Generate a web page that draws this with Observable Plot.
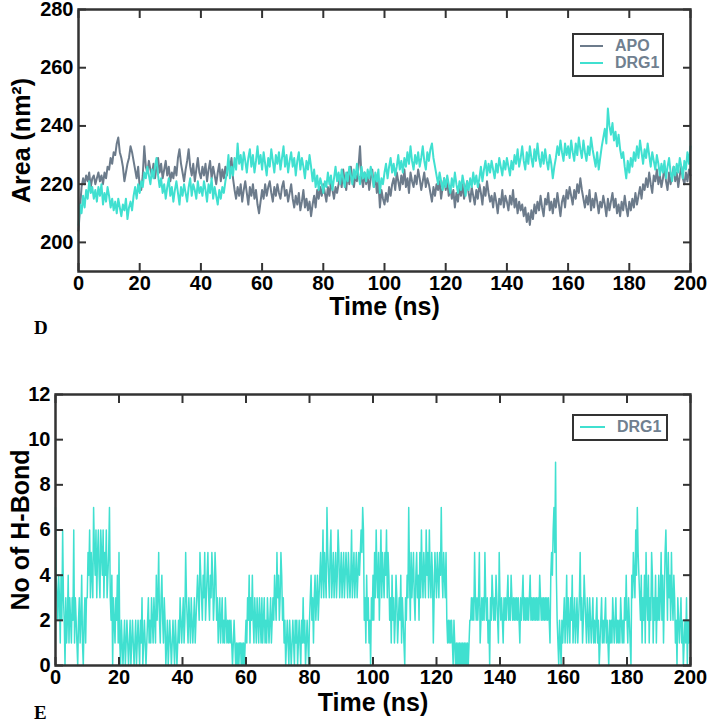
<!DOCTYPE html>
<html><head><meta charset="utf-8">
<script src="https://cdn.jsdelivr.net/npm/d3@7"></script>
<script src="https://cdn.jsdelivr.net/npm/@observablehq/plot@0.6"></script>
<style>
body{margin:0;background:#fff;}
#wrap{position:relative;width:708px;height:725px;overflow:hidden;font-family:"Liberation Sans",Arial,sans-serif;}
.panel{position:absolute;left:0;}
.leg{position:absolute;border:2px solid #333;box-sizing:border-box;background:#fff;}
.leg .ln{position:absolute;height:2px;}
.leg .tx{position:absolute;font-size:16px;font-weight:bold;line-height:18px;color:#708090;white-space:nowrap;}
.letter{position:absolute;font-family:"Liberation Serif","DejaVu Serif",serif;font-weight:bold;font-size:19px;line-height:20px;}
</style></head>
<body>
<div id="wrap">
  <div id="topPanel" class="panel" style="top:1px"></div>
  <div id="botPanel" class="panel" style="top:345px"></div>
  <div class="leg" style="left:572px;top:33px;width:92px;height:44px">
    <div class="ln" style="left:6px;top:10px;width:23px;background:#6C7B8B"></div>
    <div class="tx" style="left:41px;top:2px">APO</div>
    <div class="ln" style="left:6px;top:27px;width:23px;background:#40E0D0"></div>
    <div class="tx" style="left:41px;top:19px">DRG1</div>
  </div>
  <div class="leg" style="left:572px;top:414px;width:96px;height:27px">
    <div class="ln" style="left:6px;top:10px;width:25px;background:#40E0D0"></div>
    <div class="tx" style="left:43px;top:2px">DRG1</div>
  </div>
  <div class="letter" style="left:34px;top:318px">D</div>
  <div class="letter" style="left:34px;top:703px">E</div>
</div>
<script>
// Area (nm^2), sampled every 0.5 ns from 0 to 200 ns
const apoArea = `
204 212 219 222 220 223 221 224 219 222
223 220 222 224 221 223 220 224 222 226
225 229 227 231 230 234 236 231 229 226
221 224 227 229 233 231 228 225 222 226
219 218 223 233 226 224 228 225 223 227
222 226 229 224 227 222 225 228 223 226
221 224 222 226 223 229 232 227 224 221
225 228 232 226 223 227 221 225 229 224
222 226 223 227 221 225 228 222 226 223
220 224 227 221 225 222 226 223 228 225
229 222 218 215 219 216 220 214 218 221
217 213 219 216 220 215 218 213 210 214
218 215 220 216 219 221 217 214 219 216
220 217 215 219 221 216 218 214 217 220
215 212 216 213 217 211 214 218 212 215
211 214 209 213 216 212 218 215 219 216
220 217 214 219 216 221 218 215 219 217
220 223 219 225 221 218 224 220 226 222
219 223 221 226 233 222 219 224 220 223
218 222 225 219 223 217 221 212 218 215
213 217 214 219 216 220 222 218 224 221
218 223 220 225 219 222 217 224 221 219
223 220 225 222 218 221 224 219 222 220
217 214 219 216 220 218 221 215 219 222
218 221 216 219 215 218 212 217 214 219
216 220 215 218 221 217 214 219 216 213
218 215 220 217 213 219 216 221 217 214
216 212 217 214 210 215 213 218 212 216
214 211 216 213 218 212 215 210 214 211
213 209 212 207 210 206 211 208 213 210
214 211 216 212 209 215 213 217 211 214
210 215 212 217 213 209 214 216 212 218
215 219 216 213 218 215 220 217 222 218
215 212 216 213 218 211 215 212 217 214
210 214 212 216 213 209 215 211 214 217
212 215 210 213 209 214 211 216 212 209
214 211 215 212 217 213 216 219 215 220
218 222 219 224 220 217 223 221 225 220
223 219 222 226 221 218 224 220 223 226
221 224 219 223 226 222 220 224 221 225
223`.trim().split(/\s+/).map(Number);

const drgArea = `
206 213 210 216 212 218 215 221 217 219
215 218 214 219 216 220 213 217 214 219
216 212 215 211 214 210 215 212 209 213
211 215 208 212 214 211 216 219 215 220
217 221 219 224 222 226 223 220 225 222
226 229 223 219 222 217 220 215 219 222
216 219 214 218 221 217 213 219 216 220
217 214 219 222 216 220 218 215 221 217
219 216 221 218 214 220 217 222 215 219
216 213 218 215 219 217 221 224 230 222
226 223 229 225 234 227 230 225 231 228
224 229 232 226 230 224 228 233 227 230
225 231 227 223 229 226 232 228 224 230
227 231 225 229 233 226 230 224 228 231
226 229 223 228 231 225 229 226 222 228
225 230 226 221 225 219 223 218 222 220
217 221 219 224 220 223 218 222 226 221
224 220 225 222 219 224 221 226 223 220
225 222 227 223 220 226 222 224 221 225
222 226 223 219 224 221 225 217 222 220
224 227 222 226 229 224 227 223 226 230
225 228 224 229 226 231 227 233 228 225
230 227 231 226 229 233 228 225 231 228
232 234 229 226 223 220 224 221 218 222
219 223 220 217 222 219 224 220 217 221
218 223 220 216 221 218 222 219 224 220
223 219 222 226 221 225 228 223 227 224
228 225 222 227 224 229 226 223 228 225
229 226 223 228 225 230 227 232 226 229
233 228 225 231 227 233 229 226 232 228
234 229 226 231 227 232 228 225 230 227
222 226 229 233 230 235 231 228 234 230
233 229 235 231 228 234 230 236 232 229
235 231 228 233 230 236 232 229 226 231
225 229 233 236 239 234 246 240 237 241
235 238 233 237 232 229 231 226 222 228
224 229 226 231 228 233 229 235 231 227
232 229 234 230 226 231 228 225 230 227
223 227 224 228 222 226 229 224 221 226
223 227 224 229 226 222 228 225 231 227
233`.trim().split(/\s+/).map(Number);

// Number of H-bonds (DRG1), sampled every 0.25 ns from 0 to 200 ns
const drgHbond = `
74324314263203124132 13261321023124102313 35463543754635643654 63546345732403213241
51021012012101201210 12012102130121012312 13213214235213421320 12012101210210121321
23125321321321231234 32543243523453243542 35423123123121321212 12101210101011010101
21324132421321321321 31231213212312324325 34235423120121021012 10212012102131201210
23423134234234534635 43754356345345346534 53453454354346345345 34545657623142312032
42536435246354354635 42314231243123241321 03243742534532453425 36435436453643541354
35435474354352121212 10210101010101010101 01223232532323512323 25323120324323243215
32321323234232432323 23232132342323232342 32323232324323232323 23214546759421021021
23124132132412312312 35231243213213212312 12312012312123121021 21321231212132121324
21321043543647543241 32415324132541324132 42352413564253425324 31203212312012130212
1`.replace(/\s+/g, "").split("").map(Number);

const timeTicks = [0, 20, 40, 60, 80, 100, 120, 140, 160, 180, 200];
const areaTicks = [200, 220, 240, 260, 280];
const hbondTicks = [0, 2, 4, 6, 8, 10, 12];

const toRows = (vals) => vals.map((v, i) => ({t: i * 200 / (vals.length - 1), v}));
const apoRows = toRows(apoArea);
const drgRows = toRows(drgArea);
const hbRows = toRows(drgHbond);

const FONT = "Liberation Sans, Arial, Helvetica, sans-serif";
const AX = "#333";
const TITLE = {fontSize: 25, fontWeight: "bold", fill: "#000", textAnchor: "middle", lineAnchor: "middle"};

function axes(xt, yt) {
  const common = {stroke: AX, strokeWidth: 2, tickSize: -8, label: null, fill: "#000", fontSize: 20, fontWeight: "bold"};
  return [
    Plot.axisX(xt, {...common, anchor: "bottom", tickPadding: 12}),
    Plot.axisX(xt, {...common, anchor: "top", tickFormat: () => ""}),
    Plot.axisY(yt, {...common, anchor: "left", tickPadding: 13}),
    Plot.axisY(yt, {...common, anchor: "right", tickFormat: () => ""}),
    Plot.frame({stroke: AX, strokeWidth: 2.5})
  ];
}

const topChart = Plot.plot({
  width: 708, height: 340,
  marginLeft: 78, marginRight: 18, marginTop: 8, marginBottom: 70,
  style: {fontFamily: FONT, fontWeight: "bold", fontSize: "20px", color: "#000", background: "#fff", overflow: "visible"},
  x: {domain: [0, 200]},
  y: {domain: [190, 280]},
  marks: [
    Plot.line(apoRows, {x: "t", y: "v", stroke: "#6C7B8B", strokeWidth: 2}),
    Plot.line(drgRows, {x: "t", y: "v", stroke: "#40E0D0", strokeWidth: 2}),
    ...axes(timeTicks, areaTicks),
    Plot.text(["Time (ns)"], {...TITLE, frameAnchor: "bottom", dy: 35}),
    Plot.text(["Area (nm²)"], {...TITLE, frameAnchor: "left", dx: -57, rotate: -90})
  ]
});
document.getElementById("topPanel").appendChild(topChart);

const botChart = Plot.plot({
  width: 708, height: 380,
  marginLeft: 55, marginRight: 18, marginTop: 49, marginBottom: 60,
  style: {fontFamily: FONT, fontWeight: "bold", fontSize: "20px", color: "#000", background: "#fff", overflow: "visible"},
  x: {domain: [0, 200]},
  y: {domain: [0, 12]},
  marks: [
    Plot.line(hbRows, {x: "t", y: "v", stroke: "#40E0D0", strokeWidth: 1.5}),
    ...axes(timeTicks, hbondTicks),
    Plot.text(["Time (ns)"], {...TITLE, frameAnchor: "bottom", dy: 37}),
    Plot.text(["No of H-Bond"], {...TITLE, frameAnchor: "left", dx: -35, rotate: -90})
  ]
});
document.getElementById("botPanel").appendChild(botChart);
</script>
</body></html>
